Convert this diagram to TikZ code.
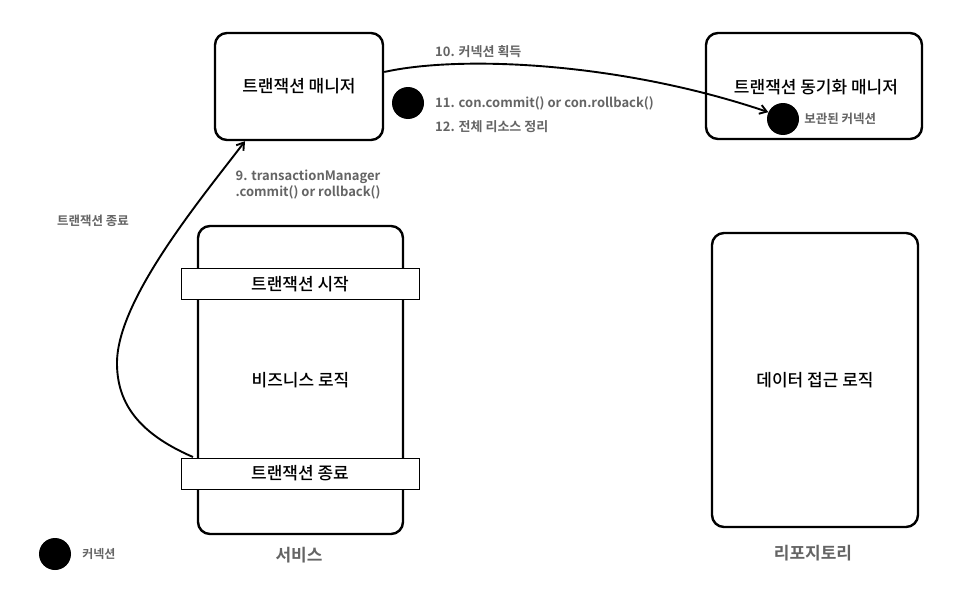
\documentclass[tikz,border=0pt]{standalone}
\usepackage{fontspec}
\setmainfont{Noto Sans CJK KR}[BoldFont={Noto Sans CJK KR Bold}]
\newfontfamily\boxfont{Noto Sans CJK KR Medium}
\usepackage{xcolor}
\usetikzlibrary{positioning,arrows.meta,calc}
\definecolor{notegray}{RGB}{100,100,100}
\tikzset{
  box/.style={draw=black, line width=2.4pt, fill=white, rounded corners=12pt,
              inner sep=0pt, font=\boxfont\fontsize{17}{20}\selectfont},
  bar/.style={draw=black, line width=0.9pt, fill=white, minimum width=238pt,
              minimum height=31pt, inner sep=0pt, font=\boxfont\fontsize{17}{20}\selectfont},
  conn/.style={circle, fill=black, minimum size=32pt, inner sep=0pt},
  note/.style={font=\bfseries\fontsize{13}{16}\selectfont, text=notegray, inner sep=1pt},
  caption/.style={font=\bfseries\fontsize{17}{20}\selectfont, text=notegray},
  flow/.style={-{Straight Barb[length=2.4mm,width=3.2mm]}, line width=1.9pt}
}

\begin{document}
\begin{tikzpicture}[x=1pt, y=-1pt]
    \useasboundingbox (0,0) rectangle (966,610);
    % boxes
    \node[box, minimum width=168pt, minimum height=107pt] (tm) at (299,86.5) {트랜잭션 매니저};
    \node[box, minimum width=216pt, minimum height=106pt] (sync) at (814,86) {};
    \node[font=\boxfont\fontsize{17}{20}\selectfont] (synct) at (816,87) {트랜잭션 동기화 매니저};
    \node[box, minimum width=205pt, minimum height=308pt] (svc) at (300.5,380) {비즈니스 로직};
    \node[box, minimum width=206pt, minimum height=294pt] (repo) at (815,380) {데이터 접근 로직};
    \node[bar] (txbegin) at (300,284) {트랜잭션 시작};
    \node[bar] (txend) at (300,473.5) {트랜잭션 종료};
    \node[caption] (svccap) at (299,555) {서비스};
    \node[caption] (repocap) at (813,553) {리포지토리};
    % connections
    \node[conn] (held) at (783,119) {};
    \node[note, right=4pt of held, font=\bfseries\fontsize{12.5}{15}\selectfont] (heldt) {보관된 커넥션};
    \node[conn] (tmcon) at (408,103) {};
    \node[conn] (legend) at (55,554) {};
    \node[note, right=10pt of legend, font=\bfseries\fontsize{12}{15}\selectfont] (legendt) {커넥션};
    % labels
    \node[note, anchor=west] (s10) at (434,52) {10. 커넥션 획득};
    \node[note, anchor=west] (s11) at (434,103) {11. con.commit() or con.rollback()};
    \node[note, anchor=west] (s12) at (434,127) {12. 전체 리소스 정리};
    \node[note, align=center] (s9) at (308,185) {9. transactionManager\\.commit() or rollback()};
    \node[note, font=\bfseries\fontsize{12.5}{15}\selectfont] (endt) at (93,221) {트랜잭션 종료};
    % arrows
    \coordinate (c9) at (193,457);
    \draw[flow] (tm.east |- 0,72) .. controls (460,55) and (620,62) .. (held.155);
    \draw[flow] (c9) .. controls (135,432) and (117,400) .. (117,363)
      .. controls (117,300) and (200,200) .. (tm.south -| 245,0);
  \end{tikzpicture}
\end{document}
